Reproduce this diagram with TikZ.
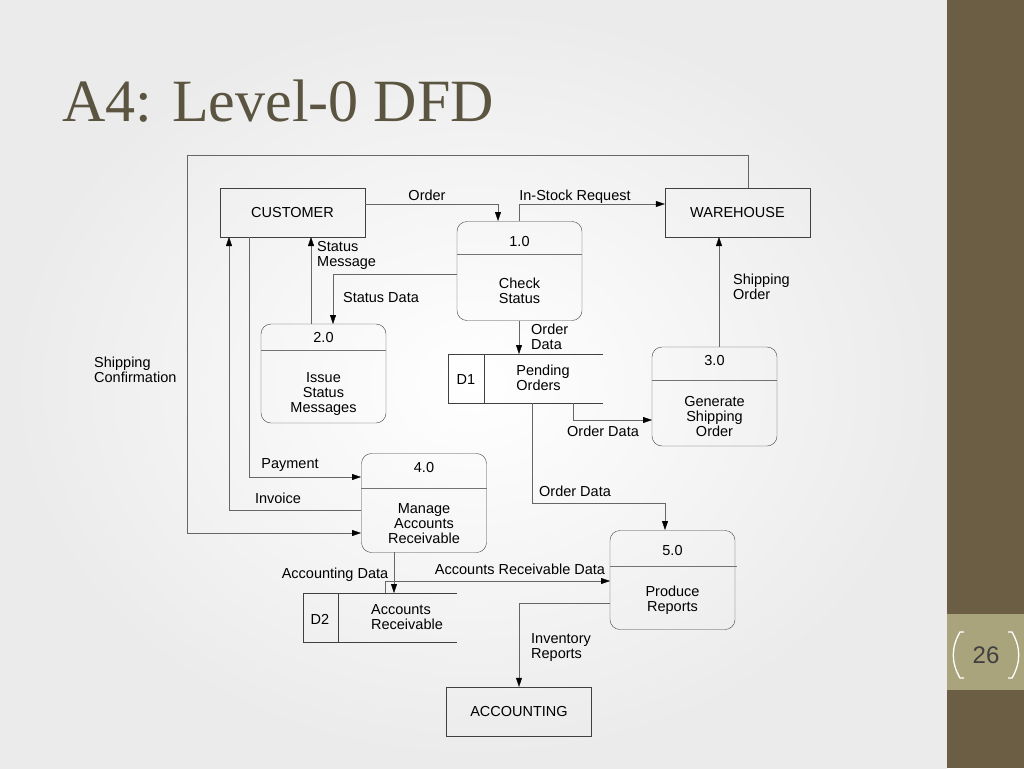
\documentclass[tikz,border=0pt]{standalone}
\usepackage{fontspec}
\setmainfont{Liberation Sans}
\newfontfamily\titlefont{Liberation Serif}
\usetikzlibrary{arrows.meta,calc,positioning}
\definecolor{barbrown}{HTML}{6B5E45}
\definecolor{numbox}{HTML}{A9A47C}
\definecolor{titlecol}{HTML}{5B5440}
\tikzset{
  entity/.style={draw=black!75, minimum width=145pt, minimum height=49pt, inner sep=0pt},
  proc/.style={draw=black!75, rounded corners=10pt, minimum width=125pt, minimum height=99pt, inner sep=0pt},
  flow/.style={draw=black!60, -{Triangle[length=9pt,width=6pt,fill=black,color=black]}},
  lbl/.style={align=left, inner sep=0pt, anchor=west}
}
\begin{document}
\begin{tikzpicture}[x=1pt,y=-1pt,font=\fontsize{14.5}{15}\selectfont]
\useasboundingbox (0,0) rectangle (1024,768);
% slide background
\shade[inner color=white, outer color=black!8] (0,0) rectangle (947,768);
\fill[barbrown] (947,0) rectangle (1024,768);
\fill[numbox] (947,614) rectangle (1024,690);
\draw[white, line width=1.3pt] (964,632) -- (960,632) to[out=-120,in=120] (960,678) -- (964,678);
\draw[white, line width=1.3pt] (1008,632) -- (1012,632) to[out=-60,in=60] (1012,678) -- (1008,678);
\node[text=black!75, font=\fontsize{24}{26}\selectfont] (pnum) at (986,655) {26};
\node[anchor=base west, inner sep=0pt, text=titlecol, font=\titlefont\fontsize{60}{62}\selectfont] (title) at (62,121) {A4: Level-0 DFD};

% externals
\node[entity] (cust) at (292.5,212.5) {CUSTOMER};
\node[entity] (ware) at (737.5,212.5) {WAREHOUSE};
\node[entity] (acct) at (519,711.5) {ACCOUNTING};

% processes
\node[proc] (p1) at (519.5,271) {};
\node[proc] (p2) at (323.5,373.5) {};
\node[proc] (p3) at (714.5,396.5) {};
\node[proc] (p4) at (424,503) {};
\node[proc] (p5) at (672.5,580) {};
\draw[black!55] (457,254) -- (582,254);
\draw[black!55] (261,350) -- (386,350);
\draw[black!55] (652,380) -- (777,380);
\draw[black!55] (361,488) -- (487,488);
\draw[black!55] (610,566) -- (737,566);
\node (n1) at (519.5,242) {1.0};
\node[align=center] (t1) at (519.5,291) {Check\\Status};
\node (n2) at (323.5,338) {2.0};
\node[align=center] (t2) at (323.5,394) {Issue\\Status\\Messages};
\node (n3) at (714.5,361) {3.0};
\node[align=center] (t3) at (714.5,417) {Generate\\Shipping\\Order};
\node (n4) at (424,468) {4.0};
\node[align=center] (t4) at (424,524) {Manage\\Accounts\\Receivable};
\node (n5) at (672.5,551) {5.0};
\node[align=center] (t5) at (672.5,600) {Produce\\Reports};

% data stores
\draw[black!75] (603,354) -- (448,354) -- (448,403) -- (603,403) (484,354) -- (484,403);
\node (d1) at (466,380) {D1};
\node[align=left] (d1t) at (543,378) {Pending\\Orders};
\draw[black!75] (457,593) -- (303,593) -- (303,642) -- (457,642) (338,593) -- (338,642);
\node (d2) at (320,619) {D2};
\node[align=left] (d2t) at (407,617) {Accounts\\Receivable};
\coordinate (d1top) at (519,354);
\coordinate (d2top) at (394,593);

% flows
\draw[flow] (cust.east |- 0,204) -- (498,204) -- (498,221);
\node[anchor=base] (lorder) at (427,200) {Order};
\draw[flow] (519,221) -- (519,204) -- (ware.west |- 0,204);
\node[anchor=base] (linstock) at (575,200) {In-Stock Request};
\draw[flow] (311,324) -- (311,237);
\node[lbl] (lstatmsg) at (317,255) {Status\\Message};
\draw[flow] (457,274) -- (333,274) -- (333,324);
\node (lstatdata) at (381,298) {Status Data};
\draw[flow] (719,347) -- (719,237);
\node[lbl] (lshipord) at (733,287) {Shipping\\Order};
\draw[flow] (519,321) -- (d1top);
\node[lbl] (lorddata1) at (531,337) {Order\\Data};
\draw[flow] (573,403) -- (573,420) -- (652,420);
\node (lorddata2) at (603,431) {Order Data};
\draw[flow] (532,403) -- (532,503) -- (665,503) -- (665,530);
\node (lorddata3) at (575,491) {Order Data};
\draw[flow] (748,188) -- (748,155) -- (187,155) -- (187,533) -- (361,533);
\node[lbl] (lshipconf) at (94,370) {Shipping\\Confirmation};
\draw[flow] (361,510) -- (229,510) -- (229,237);
\node (linvoice) at (278,498) {Invoice};
\draw[flow] (249,237) -- (249,477) -- (361,477);
\node (lpayment) at (290,465) {Payment};
\draw[flow] (394,552) -- (d2top);
\node (lacctdata) at (335,575) {Accounting Data};
\draw[flow] (385,593) -- (385,581) -- (610,581);
\node (lardata) at (520,569) {Accounts Receivable Data};
\draw[flow] (610,603) -- (519,603) -- (acct.north);
\node[lbl] (linvrep) at (531,648) {Inventory\\Reports};
\end{tikzpicture}
\end{document}
